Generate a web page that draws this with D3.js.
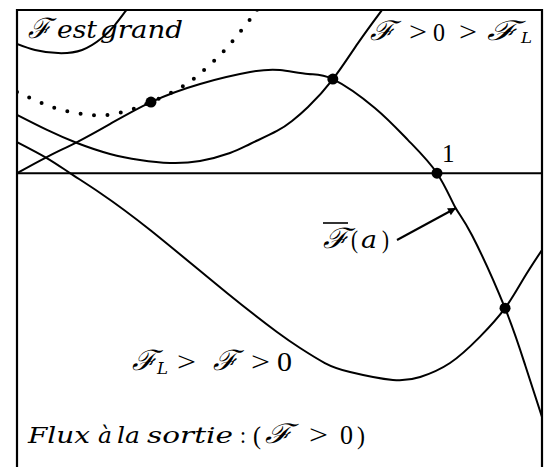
<!DOCTYPE html>
<html><head><meta charset="utf-8">
<script src="https://cdn.jsdelivr.net/npm/d3@7"></script>
<style>body{margin:0;background:#fff} svg{display:block}</style>
</head><body>
<svg id="c" width="551" height="467"></svg>
<script>
// Curves: [a, value]
const curveFbar = [[0,0],[0.071,0.099],[0.143,0.191],[0.221,0.301],[0.319,0.436],[0.436,0.547],[0.555,0.620],[0.626,0.632],[0.693,0.608],[0.752,0.577],[0.852,0.400],[0.931,0.203],[1.0,0],[1.043,-0.207],[1.083,-0.379],[1.162,-0.827],[1.210,-1.177],[1.25,-1.494]];
const curveUpper = [[0,0.357],[0.0714,0.265],[0.1429,0.185],[0.2214,0.118],[0.2929,0.081],[0.3643,0.0625],[0.4357,0.075],[0.5071,0.124],[0.5548,0.179],[0.619,0.259],[0.6548,0.320],[0.6929,0.406],[0.7524,0.577],[0.8119,0.797],[0.869,1.0]];
const curveLower = [[0,0.191],[0.071,0.093],[0.126,0.001],[0.198,-0.121],[0.317,-0.348],[0.5,-0.734],[0.619,-0.973],[0.674,-1.071],[0.733,-1.163],[0.793,-1.218],[0.895,-1.267],[0.960,-1.249],[1.031,-1.163],[1.102,-1.003],[1.162,-0.827],[1.207,-0.642],[1.25,-0.470]];
const curveGrand = [[0,0.792],[0.043,0.755],[0.098,0.736],[0.155,0.755],[0.202,0.828],[0.233,0.908],[0.257,0.988],[0.262,1.0]];
const curveDotted = [[0,0.498],[0.031,0.461],[0.090,0.400],[0.155,0.363],[0.217,0.357],[0.276,0.393],[0.319,0.436],[0.388,0.522],[0.440,0.620],[0.488,0.736],[0.529,0.859],[0.567,0.982],[0.571,1.0]];
const keyPoints = [[0.319,0.436],[0.752,0.577],[1.0,0],[1.162,-0.827]];
const axisTickLabels = [[1, "1"]];

const svg = d3.select("#c");
const x = d3.scaleLinear().domain([0,1.25]).range([17,542]);
const y = d3.scaleLinear().domain([-1.8,1]).range([467,10]);

svg.append("clipPath").attr("id","clip").append("rect")
  .attr("x",17).attr("y",10).attr("width",525).attr("height",457);

const line = d3.line().x(d=>x(d[0])).y(d=>y(d[1])).curve(d3.curveNatural);
const g = svg.append("g").attr("clip-path","url(#clip)");

[curveFbar, curveUpper, curveLower, curveGrand].forEach(c=>{
  g.append("path").attr("d", line(c)).attr("fill","none").attr("stroke","#000").attr("stroke-width",2);
});
g.append("path").attr("d", line(curveDotted)).attr("fill","none").attr("stroke","#000")
  .attr("stroke-width",4).attr("stroke-linecap","round").attr("stroke-dasharray","0 13.5");

// axis line (value 0)
svg.append("line").attr("x1",x(0)).attr("x2",x(1.25)).attr("y1",y(0)).attr("y2",y(0))
  .attr("stroke","#000").attr("stroke-width",2);
// frame
svg.append("path").attr("d",`M${x(0)},${y(-1.8)}V${y(1)}H${x(1.25)}V${y(-1.8)}`)
  .attr("fill","none").attr("stroke","#000").attr("stroke-width",2.2);

svg.selectAll("circle.k").data(keyPoints).join("circle").attr("class","k")
  .attr("cx",d=>x(d[0])).attr("cy",d=>y(d[1])).attr("r",5.5).attr("fill","#000");

// arrow
svg.append("defs").append("marker").attr("id","ah").attr("viewBox","0 0 10 10")
  .attr("refX",10).attr("refY",5).attr("markerWidth",11).attr("markerHeight",8)
  .attr("markerUnits","userSpaceOnUse").attr("orient","auto")
  .append("path").attr("d","M0,0L10,5L0,10Z").attr("fill","#000");
svg.append("line").attr("x1",397).attr("y1",240).attr("x2",456).attr("y2",208)
  .attr("stroke","#000").attr("stroke-width",2).attr("marker-end","url(#ah)");

const F = "ℱ";
const ITAL = "'DejaVu Serif',serif";
const UP = "'Liberation Serif',serif";
// text pieces: [text, x, baseline, size, family, italic, width]
const pieces = [
  [F,28,38,28,ITAL,1,23],["est",57,38,24,ITAL,1,40],["grand",100,38,24,ITAL,1,83],
  [F,370,40,27,ITAL,1,25],[">",409,41,27,UP,0,18],["0",433,41,25,UP,0,12],[">",459,41,27,UP,0,18],[F,487,40,27,ITAL,1,31],["L",521,43,15,ITAL,1,11],
  [F,323,248,28,ITAL,1,26],["(",351,248,25,UP,0,7],["a",361,248,24,ITAL,1,16],[")",382,248,25,UP,0,7],
  [F,132,370,28,ITAL,1,25],["L",157,374,16,ITAL,1,11],[">",177,371,28,UP,0,19],[F,213,370,28,ITAL,1,25],[">",251,371,28,UP,0,19],["0",277,371,28,UP,0,15],
  ["Flux",28,443,23,ITAL,1,62],["à",98,443,23,ITAL,1,14],["la",117,443,23,ITAL,1,23],["sortie",147,443,23,ITAL,1,86],[":",240,443,24,UP,0,6],
  ["(",253,444,26,UP,0,8],[F,265,443,27,ITAL,1,27],[">",309,444,27,UP,0,19],["0",340,444,27,UP,0,13],[")",357,444,26,UP,0,8]
];
svg.selectAll("text.p").data(pieces).join("text").attr("class","p")
  .attr("x",d=>d[1]).attr("y",d=>d[2]).attr("font-size",d=>d[3]).attr("font-family",d=>d[4])
  .attr("font-style",d=>d[5]?"italic":"normal")
  .attr("textLength",d=>d[6]).attr("lengthAdjust","spacingAndGlyphs").text(d=>d[0]);
svg.append("line").attr("x1",323).attr("x2",348).attr("y1",223).attr("y2",223).attr("stroke","#000").attr("stroke-width",1.6);

svg.selectAll("text.tk").data(axisTickLabels).join("text").attr("class","tk")
  .attr("x",d=>x(d[0])+5).attr("y",y(0)-11).attr("font-size",25).attr("font-family",UP).text(d=>d[1]);
</script>
</body></html>
